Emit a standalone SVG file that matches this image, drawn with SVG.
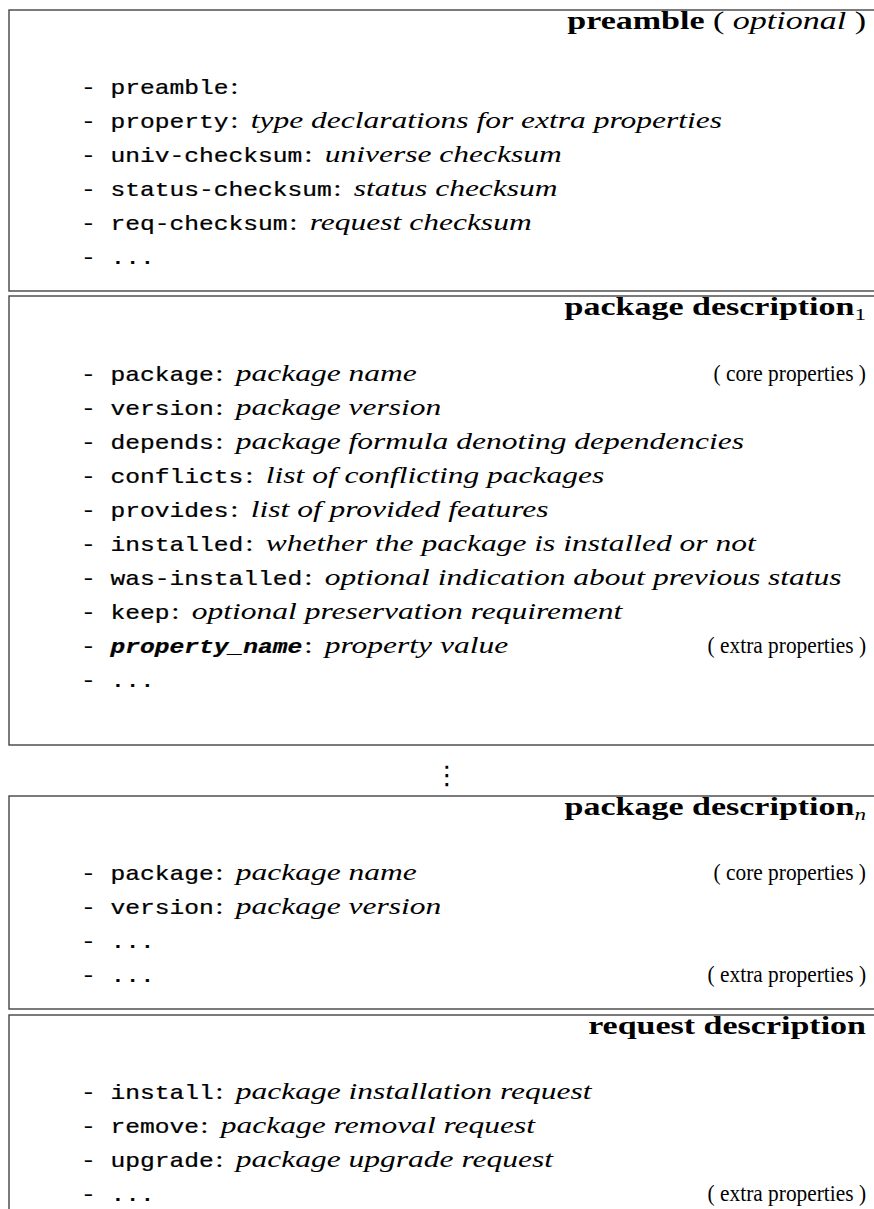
<svg xmlns="http://www.w3.org/2000/svg" width="874" height="1209" viewBox="0 0 874 1209">
  <style>
    .frame { fill: none; stroke: #444; stroke-width: 1.4; }
    .k { font-family: "Liberation Mono", "DejaVu Sans Mono", monospace; font-size: 20.5px; fill: #000; stroke: #000; stroke-width: 0.25px; }
    .kb { font-weight: bold; font-style: italic; }
    .d { font-family: "Liberation Serif", serif; font-style: italic; font-size: 23px; fill: #000; }
    .r { font-style: normal; }
    .t { font-family: "Liberation Serif", serif; font-weight: bold; font-size: 25px; fill: #000; }
    .tn { font-weight: normal; }
    .ti { font-weight: normal; font-style: italic; }
    .n { font-family: "Liberation Serif", serif; font-size: 23px; fill: #000; }
    .v { font-family: "DejaVu Sans", sans-serif; font-size: 26px; fill: #000; }
  </style>

  <rect width="874" height="1209" fill="#fff"/>

  <!-- preamble block -->
  <g id="preamble">
    <rect class="frame" x="9" y="10" width="900" height="281"/>
    <text class="t" text-anchor="end" transform="translate(866,29) scale(1.36,1)">preamble <tspan class="tn">(</tspan> <tspan class="ti">optional</tspan> <tspan class="tn">)</tspan></text>
    <text class="k" transform="translate(81,94) scale(1.2,1)">- preamble</text>
    <text class="d" transform="translate(230,94) scale(1.37,1)"><tspan class="r">:</tspan></text>
    <text class="k" transform="translate(81,128) scale(1.2,1)">- property</text>
    <text class="d" transform="translate(230,128) scale(1.37,1)"><tspan class="r">:</tspan><tspan dx="3"> type declarations for extra properties</tspan></text>
    <text class="k" transform="translate(81,162) scale(1.2,1)">- univ-checksum</text>
    <text class="d" transform="translate(304,162) scale(1.37,1)"><tspan class="r">:</tspan><tspan dx="3"> universe checksum</tspan></text>
    <text class="k" transform="translate(81,196) scale(1.2,1)">- status-checksum</text>
    <text class="d" transform="translate(333,196) scale(1.37,1)"><tspan class="r">:</tspan><tspan dx="3"> status checksum</tspan></text>
    <text class="k" transform="translate(81,230) scale(1.2,1)">- req-checksum</text>
    <text class="d" transform="translate(289,230) scale(1.37,1)"><tspan class="r">:</tspan><tspan dx="3"> request checksum</tspan></text>
    <text class="k" transform="translate(81,264) scale(1.2,1)">- ...</text>
  </g>

  <!-- first package stanza -->
  <g id="package-1">
    <rect class="frame" x="9" y="296" width="900" height="449"/>
    <text class="t" text-anchor="end" transform="translate(866,315) scale(1.36,1)">package description<tspan class="tn" font-size="17" dy="5">1</tspan></text>
    <text class="k" transform="translate(81,381) scale(1.2,1)">- package</text>
    <text class="d" transform="translate(215,381) scale(1.37,1)"><tspan class="r">:</tspan><tspan dx="3"> package name</tspan></text>
    <text class="n" text-anchor="end" transform="translate(866,381) scale(0.93,1)">( core properties )</text>
    <text class="k" transform="translate(81,415) scale(1.2,1)">- version</text>
    <text class="d" transform="translate(215,415) scale(1.37,1)"><tspan class="r">:</tspan><tspan dx="3"> package version</tspan></text>
    <text class="k" transform="translate(81,449) scale(1.2,1)">- depends</text>
    <text class="d" transform="translate(215,449) scale(1.37,1)"><tspan class="r">:</tspan><tspan dx="3"> package formula denoting dependencies</tspan></text>
    <text class="k" transform="translate(81,483) scale(1.2,1)">- conflicts</text>
    <text class="d" transform="translate(245,483) scale(1.37,1)"><tspan class="r">:</tspan><tspan dx="3"> list of conflicting packages</tspan></text>
    <text class="k" transform="translate(81,517) scale(1.2,1)">- provides</text>
    <text class="d" transform="translate(230,517) scale(1.37,1)"><tspan class="r">:</tspan><tspan dx="3"> list of provided features</tspan></text>
    <text class="k" transform="translate(81,551) scale(1.2,1)">- installed</text>
    <text class="d" transform="translate(245,551) scale(1.37,1)"><tspan class="r">:</tspan><tspan dx="3"> whether the package is installed or not</tspan></text>
    <text class="k" transform="translate(81,585) scale(1.2,1)">- was-installed</text>
    <text class="d" transform="translate(304,585) scale(1.37,1)"><tspan class="r">:</tspan><tspan dx="3"> optional indication about previous status</tspan></text>
    <text class="k" transform="translate(81,619) scale(1.2,1)">- keep</text>
    <text class="d" transform="translate(171,619) scale(1.37,1)"><tspan class="r">:</tspan><tspan dx="3"> optional preservation requirement</tspan></text>
    <text class="k" transform="translate(81,653) scale(1.2,1)">- <tspan class="kb">property_name</tspan></text>
    <text class="d" transform="translate(304,653) scale(1.37,1)"><tspan class="r">:</tspan><tspan dx="3"> property value</tspan></text>
    <text class="n" text-anchor="end" transform="translate(866,653) scale(0.93,1)">( extra properties )</text>
    <text class="k" transform="translate(81,687) scale(1.2,1)">- ...</text>
  </g>

  <!-- elision between stanzas -->
  <g id="gap">
    <text class="v" text-anchor="middle" x="447" y="784">⋮</text>
  </g>

  <!-- last package stanza -->
  <g id="package-n">
    <rect class="frame" x="9" y="796" width="900" height="213"/>
    <text class="t" text-anchor="end" transform="translate(866,815) scale(1.36,1)">package description<tspan class="ti" font-size="17" dy="5">n</tspan></text>
    <text class="k" transform="translate(81,880) scale(1.2,1)">- package</text>
    <text class="d" transform="translate(215,880) scale(1.37,1)"><tspan class="r">:</tspan><tspan dx="3"> package name</tspan></text>
    <text class="n" text-anchor="end" transform="translate(866,880) scale(0.93,1)">( core properties )</text>
    <text class="k" transform="translate(81,914) scale(1.2,1)">- version</text>
    <text class="d" transform="translate(215,914) scale(1.37,1)"><tspan class="r">:</tspan><tspan dx="3"> package version</tspan></text>
    <text class="k" transform="translate(81,948) scale(1.2,1)">- ...</text>
    <text class="k" transform="translate(81,982) scale(1.2,1)">- ...</text>
    <text class="n" text-anchor="end" transform="translate(866,982) scale(0.93,1)">( extra properties )</text>
  </g>

  <!-- request stanza -->
  <g id="request">
    <rect class="frame" x="9" y="1015" width="900" height="260"/>
    <text class="t" text-anchor="end" transform="translate(866,1034) scale(1.36,1)">request description</text>
    <text class="k" transform="translate(81,1099) scale(1.2,1)">- install</text>
    <text class="d" transform="translate(215,1099) scale(1.37,1)"><tspan class="r">:</tspan><tspan dx="3"> package installation request</tspan></text>
    <text class="k" transform="translate(81,1133) scale(1.2,1)">- remove</text>
    <text class="d" transform="translate(200,1133) scale(1.37,1)"><tspan class="r">:</tspan><tspan dx="3"> package removal request</tspan></text>
    <text class="k" transform="translate(81,1167) scale(1.2,1)">- upgrade</text>
    <text class="d" transform="translate(215,1167) scale(1.37,1)"><tspan class="r">:</tspan><tspan dx="3"> package upgrade request</tspan></text>
    <text class="k" transform="translate(81,1201) scale(1.2,1)">- ...</text>
    <text class="n" text-anchor="end" transform="translate(866,1201) scale(0.93,1)">( extra properties )</text>
  </g>
</svg>
